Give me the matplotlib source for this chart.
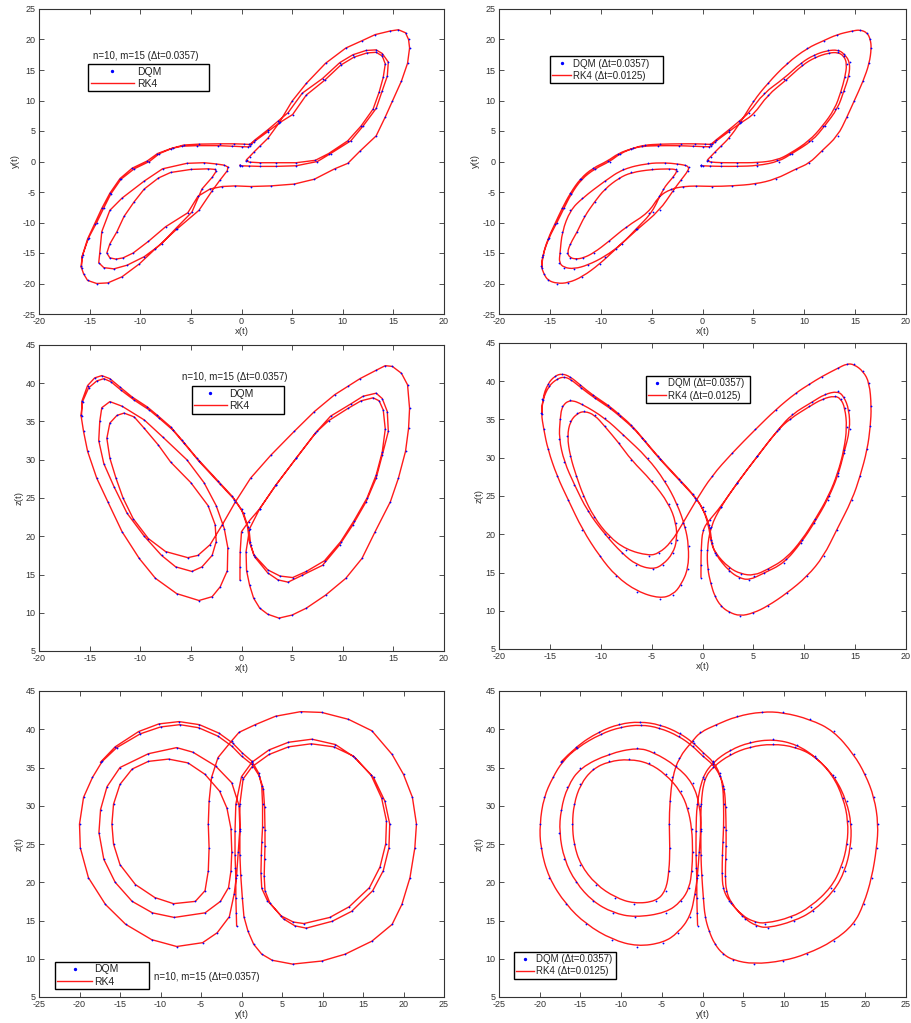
import numpy as np
import matplotlib.pyplot as plt
from matplotlib.path import Path
from matplotlib.patches import PathPatch
from matplotlib.lines import Line2D

plt.rcParams['font.family'] = ['Liberation Sans', 'DejaVu Sans']
plt.rcParams['axes.unicode_minus'] = False

seg_start = [(-15.8, -17.4, 35.7), (-15.75, -15.6, 37.7), (-15.2, -12.7, 39.7), (-14.5, -10.2, 40.7),
             (-13.8, -7.7, 41.0), (-13.0, -5.2, 40.6), (-12.0, -2.8, 39.5), (-10.8, -1.1, 38.2),
             (-9.3, 0.1, 36.9), (-8.3, 1.3, 35.8), (-7.0, 2.1, 34.3), (-5.9, 2.5, 32.6),
             (-4.4, 2.6, 30.2), (-2.3, 2.6, 27.2), (-0.9, 2.5, 25.2), (0.0, 2.45, 23.5),
             (0.6, 2.4, 21.2), (0.8, 2.5, 19.2), (1.2, 3.2, 17.6), (2.6, 4.9, 15.6),
             (3.8, 6.4, 14.8), (5.05, 7.7, 14.6)]
seg_m1 = [(6.4, 10.9, 15.4), (8.2, 13.3, 16.8), (9.8, 15.8, 19.3), (11.1, 17.1, 22.0),
          (12.4, 17.8, 25.0), (13.3, 17.9, 28.0), (13.9, 17.3, 31.0), (14.2, 16.0, 34.0),
          (14.0, 13.8, 36.5), (13.6, 11.4, 37.7), (13.0, 8.6, 38.1), (11.8, 5.8, 37.7),
          (10.5, 3.4, 36.7), (8.6, 1.3, 35.1), (7.3, 0.2, 33.5), (5.4, -0.2, 30.2),
          (3.4, -0.2, 26.7), (1.8, -0.2, 23.6), (0.8, -0.1, 21.0), (0.45, 0.1, 18.0),
          (0.5, 0.3, 15.5), (0.8, 0.8, 13.6), (1.2, 1.5, 11.9), (1.8, 2.5, 10.6),
          (2.6, 3.8, 9.8), (3.7, 6.3, 9.3)]
seg_o = [(5.0, 9.9, 9.7), (6.4, 12.8, 10.6), (8.3, 16.1, 12.3), (10.3, 18.6, 14.5),
         (11.9, 19.8, 17.1), (13.2, 20.8, 20.6), (14.7, 21.4, 24.5), (15.5, 21.6, 27.6),
         (16.2, 21.1, 31.1), (16.5, 20.0, 34.1), (16.6, 18.6, 36.7), (16.4, 16.1, 39.8),
         (15.8, 13.2, 41.3), (14.9, 9.9, 42.2), (14.2, 7.3, 42.3), (13.3, 4.2, 41.7),
         (11.7, 1.7, 40.6), (10.5, -0.3, 39.6), (9.2, -1.2, 38.5), (7.2, -2.9, 36.3),
         (5.2, -3.7, 33.7), (2.9, -4.0, 30.6), (0.9, -4.1, 27.6), (-0.6, -4.0, 24.5),
         (-1.9, -4.1, 21.5), (-3.1, -4.5, 18.9), (-4.3, -5.7, 17.5), (-5.3, -8.4, 17.2)]
seg_li = [(-7.5, -10.7, 18.0), (-9.2, -13.1, 19.7), (-10.7, -15.0, 22.3), (-11.7, -15.8, 25.0),
          (-12.4, -16.0, 27.6), (-13.0, -15.8, 30.2), (-13.3, -15.0, 32.8), (-13.0, -13.5, 34.8),
          (-12.3, -11.5, 35.8), (-11.6, -9.0, 36.1), (-10.6, -6.6, 35.6), (-9.6, -4.5, 34.1),
          (-8.2, -2.7, 31.9), (-7.0, -1.8, 29.7), (-5.0, -1.3, 27.0), (-3.3, -1.2, 24.0),
          (-2.6, -1.3, 21.5), (-2.5, -1.6, 19.3), (-2.9, -2.6, 17.5), (-3.9, -4.5, 16.0),
          (-4.9, -8.3, 15.4)]
seg_lm = [(-6.5, -11.0, 16.0), (-7.9, -13.5, 17.5), (-9.6, -15.6, 20.0), (-11.3, -17.0, 23.0),
          (-12.6, -17.6, 26.5), (-13.6, -17.4, 29.5), (-14.1, -16.6, 32.5), (-14.0, -15.0, 35.0),
          (-13.8, -11.5, 36.8), (-13.0, -8.0, 37.6), (-11.8, -6.0, 37.0), (-9.6, -3.2, 35.2),
          (-7.8, -1.2, 33.0), (-5.4, -0.3, 30.0), (-3.7, -0.2, 27.0), (-2.5, -0.4, 24.0),
          (-1.7, -0.6, 21.0), (-1.35, -0.9, 18.5), (-1.4, -1.5, 15.5), (-2.1, -3.0, 13.4),
          (-2.9, -4.8, 12.1), (-4.2, -8.0, 11.6)]
seg_lo = [(-6.4, -11.1, 12.5), (-8.5, -14.3, 14.5), (-10.1, -16.8, 17.1), (-11.8, -18.9, 20.6),
          (-13.2, -19.9, 24.5), (-14.3, -20.0, 27.6), (-15.2, -19.5, 31.1), (-15.6, -18.4, 33.7),
          (-15.85, -17.2, 35.8), (-15.7, -15.4, 37.6), (-15.1, -12.5, 39.4), (-14.3, -10.0, 40.3),
          (-13.6, -7.6, 40.6), (-12.9, -5.3, 40.2), (-11.9, -2.9, 39.1), (-10.6, -1.2, 37.8),
          (-9.1, 0.0, 36.5), (-8.1, 1.3, 35.4), (-6.8, 2.2, 33.9), (-5.7, 2.7, 32.2),
          (-4.2, 2.85, 29.8), (-2.1, 2.9, 26.8), (-0.7, 2.9, 24.8), (0.2, 2.85, 23.0),
          (0.75, 2.8, 20.8), (0.9, 2.9, 18.9), (1.3, 3.5, 17.3), (2.6, 5.2, 15.2),
          (3.6, 6.6, 14.3), (4.6, 8.0, 14.0)]
seg_m2 = [(6.0, 11.2, 14.9), (8.0, 13.6, 16.2), (9.7, 16.2, 18.9), (11.0, 17.5, 21.5),
          (12.3, 18.2, 24.5), (13.3, 18.3, 27.6), (13.9, 17.7, 30.6), (14.5, 16.3, 33.7),
          (14.4, 14.0, 36.3), (13.9, 11.6, 38.0), (13.3, 8.7, 38.7), (12.0, 5.8, 38.3),
          (10.8, 3.4, 37.3), (8.8, 1.3, 35.7), (7.5, 0.0, 33.8), (5.4, -0.7, 30.2),
          (3.4, -0.8, 26.7), (1.8, -0.8, 23.6), (0.7, -0.75, 21.9), (0.0, -0.7, 20.6),
          (-0.13, -0.7, 18.0), (-0.15, -0.65, 16.0), (-0.15, -0.6, 14.3)]

ticks_x = [-20, -15, -10, -5, 0, 5, 10, 15, 20]
ticks_y = [-25, -20, -15, -10, -5, 0, 5, 10, 15, 20, 25]
ticks_z = [5, 10, 15, 20, 25, 30, 35, 40, 45]

NOTE = 'n=10, m=15 (\u0394t=0.0357)'
LBL_FINE = ['DQM (\u0394t=0.0357)', 'RK4 (\u0394t=0.0125)']
LBL_COARSE = ['DQM', 'RK4']

traj = np.array(seg_start + seg_m1 + seg_o + seg_li + seg_lm + seg_lo + seg_m2)
RED = '#ff1a1a'


def smooth_path(px, py):
    # quadratic b-spline drawn by the path renderer, control points = traced points
    pts = np.column_stack([px, py])
    mids = (pts[1:-1] + pts[2:]) / 2.0
    verts = [pts[0]]
    codes = [Path.MOVETO]
    for c, m in zip(pts[1:-1], mids):
        verts += [c, m]
        codes += [Path.CURVE3, Path.CURVE3]
    verts.append(pts[-1])
    codes.append(Path.LINETO)
    return Path(np.array(verts), codes)


def style(ax, xt, yt, xl, yl):
    ax.set_xlim(xt[0], xt[-1])
    ax.set_ylim(yt[0], yt[-1])
    ax.set_xticks(xt)
    ax.set_yticks(yt)
    ax.tick_params(direction='in', length=3.5, width=0.6, top=True, right=True,
                   labelsize=6.5, colors='#333333', pad=2.5)
    ax.set_xlabel(xl, fontsize=6.8, labelpad=0.5, color='#333333')
    ax.set_ylabel(yl, fontsize=6.8, labelpad=1.5, color='#333333')
    for s in ax.spines.values():
        s.set_linewidth(0.8)
        s.set_color('#333333')


def add_legend(ax, labels, box, hl, fs=7.5):
    hs = [Line2D([], [], ls='none', marker='o', ms=1.4, color='blue'),
          Line2D([], [], color=RED, lw=1.0)]
    leg = ax.legend(hs, labels, loc='upper left', bbox_to_anchor=box, mode='expand',
                    fontsize=fs, frameon=True, fancybox=False, edgecolor='black',
                    framealpha=1, borderpad=0.25, handlelength=hl, handletextpad=0.25,
                    labelspacing=0.22, borderaxespad=0)
    leg.get_frame().set_linewidth(1.0)
    for t in leg.get_texts():
        t.set_color('#222222')


fig = plt.figure(figsize=(9.11, 10.23), dpi=100)
W, H = 911.0, 1023.0

def make_ax(l, t, r, b):
    return fig.add_axes([l / W, 1 - b / H, (r - l) / W, (b - t) / H])

panels = [
    # (rect, cols, xticks, yticks, xlabel, ylabel, coarse)
    ((39, 9, 444, 314), (0, 1), ticks_x, ticks_y, 'x(t)', 'y(t)', True),
    ((499, 9, 906, 314), (0, 1), ticks_x, ticks_y, 'x(t)', 'y(t)', False),
    ((39, 345, 444, 651), (0, 2), ticks_x, ticks_z, 'x(t)', 'z(t)', True),
    ((499, 343, 906, 649), (0, 2), ticks_x, ticks_z, 'x(t)', 'z(t)', False),
    ((39, 691, 444, 997), (1, 2), ticks_y, ticks_z, 'y(t)', 'z(t)', True),
    ((499, 691, 906, 997), (1, 2), ticks_y, ticks_z, 'y(t)', 'z(t)', False),
]

axes = []
for rect, (i, j), xt, yt, xl, yl, coarse in panels:
    ax = make_ax(*rect)
    px, py = traj[:, i], traj[:, j]
    if coarse:
        ax.plot(px, py, color=RED, lw=1.0, zorder=2)
    else:
        ax.add_patch(PathPatch(smooth_path(px, py), facecolor='none', edgecolor=RED,
                               lw=1.0, zorder=2))
    ax.plot(px, py, ls='none', marker='o', ms=1.3, color='blue', mec='none', zorder=3)
    style(ax, xt, yt, xl, yl)
    axes.append(ax)

# legends and notes
add_legend(axes[0], LBL_COARSE, (0.121, 0.72, 0.299, 0.10), 4.2)
axes[0].text(0.264, 0.846, NOTE, transform=axes[0].transAxes, ha='center', va='center',
             fontsize=7, color='#222222')
add_legend(axes[1], LBL_FINE, (0.125, 0.73, 0.277, 0.115), 1.9, fs=7.0)
add_legend(axes[2], LBL_COARSE, (0.377, 0.78, 0.227, 0.086), 3.1)
axes[2].text(0.484, 0.896, NOTE, transform=axes[2].transAxes, ha='center', va='center',
             fontsize=7, color='#222222')
add_legend(axes[3], LBL_FINE, (0.361, 0.793, 0.255, 0.099), 1.8, fs=7.0)
add_legend(axes[4], LBL_COARSE, (0.039, 0.028, 0.233, 0.087), 3.3)
axes[4].text(0.284, 0.065, NOTE, transform=axes[4].transAxes, ha='left', va='center',
             fontsize=7, color='#222222')
add_legend(axes[5], LBL_FINE, (0.036, 0.052, 0.252, 0.096), 1.8, fs=7.0)

plt.savefig('out.png', dpi=100)
